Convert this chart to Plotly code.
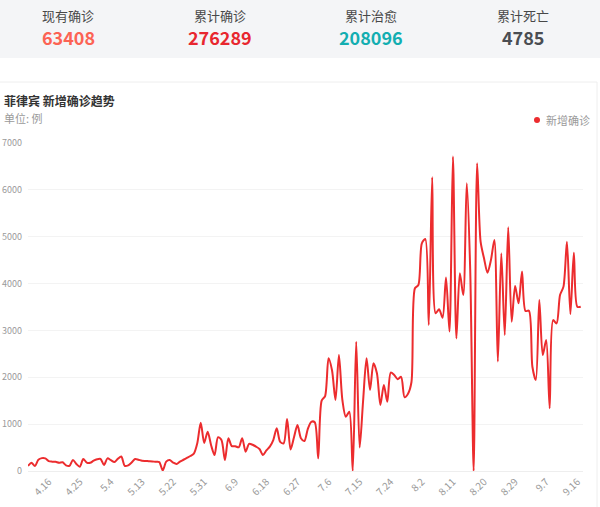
import plotly.graph_objects as go
import pandas as pd

# ---------------- data ----------------
dates = [f"{d.month}.{d.day}" for d in pd.date_range("2020-04-10", "2020-09-17")]
new_cases = [
    107, 175, 107, 240, 275, 270, 210, 200, 195, 175,
    185, 120, 110, 235, 150, 92, 256, 180, 175, 220,
    250, 256, 128, 270, 230, 190, 260, 310, 110, 120,
    180, 256, 240, 220, 215, 210, 205, 195, 190, 10,
    200, 235, 180, 150, 200, 240, 280, 320, 370, 590,
    1030, 600, 840, 550, 340, 720, 660, 235, 700, 530,
    530, 505, 700, 412, 580, 560, 520, 470, 340, 440,
    520, 660, 910, 620, 590, 1110, 460, 720, 980, 700,
    640, 900, 1050, 1040, 270, 1500, 1600, 2405, 2150, 1515,
    2475, 1515, 1160, 1265, 0, 2760, 500, 1500, 2405, 1730,
    2300, 2085, 1410, 1835, 1480, 2100, 2050, 1960, 2010, 1573,
    1650, 1900, 3900, 3970, 4860, 4950, 3115, 6270, 3365, 3450,
    3270, 4130, 2975, 6710, 2830, 4220, 3755, 6140, 4300, 0,
    6570, 4900, 4540, 4230, 4500, 4930, 2335, 4645, 2900, 5200,
    3185, 3950, 3580, 4255, 3415, 3420, 2225, 1940, 3650, 2475,
    2795, 1340, 3220, 3150, 3755, 3935, 4895, 3350, 4660, 3505,
    3505,
]
tick_labels = ["4.16", "4.25", "5.4", "5.13", "5.22", "5.31", "6.9", "6.18", "6.27",
               "7.6", "7.15", "7.24", "8.2", "8.11", "8.20", "8.29", "9.7", "9.16"]
y_ticks = [0, 1000, 2000, 3000, 4000, 5000, 6000, 7000]

stat_labels = ["现有确诊", "累计确诊", "累计治愈", "累计死亡"]
stat_values = ["63408", "276289", "208096", "4785"]
stat_colors = ["#fc6354", "#e8272f", "#13aeb1", "#4a4d52"]

series_name = "新增确诊"
title_text = "菲律宾 新增确诊趋势"
unit_text = "单位: 例"

# ---------------- layout helpers ----------------
W, H = 600, 507
L, R, T, B = 28, 17, 143, 36
PW, PH = W - L - R, H - T - B
FONT = "Noto Sans CJK SC, Noto Sans, sans-serif"
RED = "#ec2c2e"


def px(x):
    return (x - L) / PW


def py(y):
    return (H - B - y) / PH


fig = go.Figure()
fig.add_trace(go.Scatter(
    x=dates, y=new_cases, mode="lines", name=series_name,
    line=dict(color=RED, width=2, shape="spline", smoothing=0.8),
    showlegend=False,
))

shapes = [
    # top stats band
    dict(type="rect", xref="paper", yref="paper", x0=px(0), x1=px(600), y0=py(58), y1=py(0),
         fillcolor="#f4f5f7", line=dict(width=0), layer="below"),
    # chart card border
    dict(type="rect", xref="paper", yref="paper", x0=px(-2), x1=px(597), y0=py(520), y1=py(82),
         fillcolor="rgba(0,0,0,0)", line=dict(color="#eeeeee", width=1), layer="below"),
    # legend dot
    dict(type="circle", xref="paper", yref="paper", x0=px(534), x1=px(540), y0=py(123), y1=py(117),
         fillcolor=RED, line=dict(width=0)),
]

annotations = []
centers = [68, 220, 371, 523]
for cx, lab, val, col in zip(centers, stat_labels, stat_values, stat_colors):
    annotations.append(dict(xref="paper", yref="paper", x=px(cx), y=py(15), text=lab,
                            showarrow=False, xanchor="center", yanchor="middle",
                            font=dict(family=FONT, size=13, color="#484848")))
    annotations.append(dict(xref="paper", yref="paper", x=px(cx), y=py(37), text=f"<b>{val}</b>",
                            showarrow=False, xanchor="center", yanchor="middle",
                            font=dict(family=FONT, size=18, color=col)))

annotations.append(dict(xref="paper", yref="paper", x=px(2), y=py(100), text=f"<b>{title_text}</b>",
                        showarrow=False, xanchor="left", yanchor="middle",
                        font=dict(family=FONT, size=12, color="#333333")))
annotations.append(dict(xref="paper", yref="paper", x=px(2), y=py(118), text=unit_text,
                        showarrow=False, xanchor="left", yanchor="middle",
                        font=dict(family=FONT, size=11, color="#9a9a9a")))
annotations.append(dict(xref="paper", yref="paper", x=px(544), y=py(120), text=series_name,
                        showarrow=False, xanchor="left", yanchor="middle",
                        font=dict(family=FONT, size=11, color="#9a9a9a")))

fig.update_layout(
    width=W, height=H,
    margin=dict(l=L, r=R, t=T, b=B, pad=0, autoexpand=False),
    paper_bgcolor="white", plot_bgcolor="white",
    font=dict(family=FONT, color="#999999", size=10),
    shapes=shapes, annotations=annotations,
    showlegend=False,
    xaxis=dict(
        type="category", range=[0, 160.65], automargin=False,
        tickmode="array", tickvals=tick_labels, ticktext=tick_labels,
        tickangle=-45, showgrid=False, zeroline=False,
        showline=True, linecolor="#eeeeee", linewidth=1,
        ticks="", tickfont=dict(family=FONT, size=10, color="#9a9a9a"),
    ),
    yaxis=dict(
        range=[0, 7000], tickmode="array", tickvals=y_ticks, automargin=False,
        showgrid=True, gridcolor="#f3f3f3", gridwidth=1, zeroline=False,
        showline=False, ticks="", ticklabelstandoff=5,
        tickfont=dict(family=FONT, size=9, color="#9a9a9a"),
    ),
)

fig.write_html(
    "out.html",
    config={"displayModeBar": False},
    post_script="document.body.style.margin='0';document.body.style.overflow='hidden';",
)
